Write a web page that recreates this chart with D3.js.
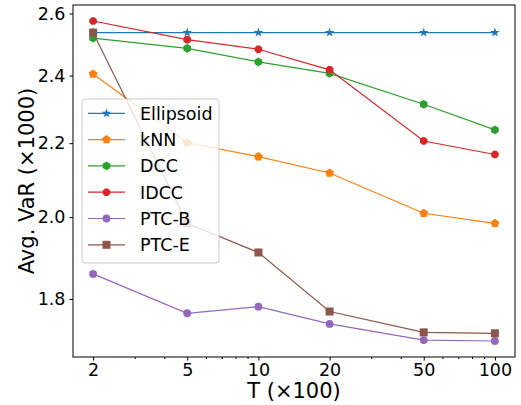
<!DOCTYPE html>
<html>
<head>
  <script src="https://d3js.org/d3.v7.min.js"></script>
  <style>
    body { margin: 0; padding: 0; background: white; overflow: hidden; }
    svg { display: block; font-family: "DejaVu Sans", sans-serif; }
  </style>
</head>
<body>
  <svg width="521" height="405"></svg>
  <script>
    const tValues = [2, 5, 10, 20, 50, 100];
    const seriesNames = ["Ellipsoid", "kNN", "DCC", "IDCC", "PTC-B", "PTC-E"];
    const ellipsoid = [2.537, 2.537, 2.537, 2.537, 2.537, 2.537];
    const knn = [2.405, 2.201, 2.162, 2.117, 2.010, 1.984];
    const dcc = [2.519, 2.486, 2.443, 2.407, 2.313, 2.238];
    const idcc = [2.575, 2.514, 2.483, 2.418, 2.206, 2.168];
    const ptcB = [1.859, 1.767, 1.782, 1.743, 1.707, 1.705];
    const ptcE = [2.537, 1.984, 1.911, 1.771, 1.724, 1.722];
    const yTicks = [1.8, 2.0, 2.2, 2.4, 2.6];
    const xTicks = [2, 5, 10, 20, 50, 100];

    const colors = ["#1f77b4", "#ff7f0e", "#2ca02c", "#d62728", "#9467bd", "#8c564b"];
    const markers = ["star", "pentagon", "hexagon", "octagon", "circle", "square"];
    const allValues = [ellipsoid, knn, dcc, idcc, ptcB, ptcE];

    const series = seriesNames.map((name, i) => ({
      name: name,
      color: colors[i],
      marker: markers[i],
      points: tValues.map((t, j) => ({ t: t, v: allValues[i][j] }))
    }));

    const svg = d3.select("svg");
    const margin = { top: 5, right: 6, bottom: 48, left: 73 };
    const width = 521 - margin.left - margin.right;
    const height = 405 - margin.top - margin.bottom;
    const g = svg.append("g").attr("transform", "translate(" + margin.left + "," + margin.top + ")");

    // matplotlib-style 5% padding in log space
    function padLog(lo, hi) {
      const a = Math.log(lo), b = Math.log(hi), p = (b - a) * 0.05;
      return [Math.exp(a - p), Math.exp(b + p)];
    }
    const flat = allValues.flat();
    const x = d3.scaleLog().domain(padLog(d3.min(tValues), d3.max(tValues))).range([0, width]);
    const y = d3.scaleLog().domain(padLog(d3.min(flat), d3.max(flat))).range([height, 0]);

    // axes
    const minorX = [];
    [1, 10, 100].forEach(dec => {
      for (let k = 2; k <= 9; k++) {
        const v = dec * k;
        if (v >= x.domain()[0] && v <= x.domain()[1] && !xTicks.includes(v)) minorX.push(v);
      }
    });

    const xAxis = g.append("g")
      .attr("transform", "translate(0," + height + ")")
      .call(d3.axisBottom(x).tickValues(xTicks).tickFormat(d3.format("d")).tickSize(3.5).tickPadding(3));
    g.append("g")
      .attr("transform", "translate(0," + height + ")")
      .call(d3.axisBottom(x).tickValues(minorX).tickFormat("").tickSize(2))
      .select(".domain").remove();

    const yAxis = g.append("g")
      .call(d3.axisLeft(y).tickValues(yTicks).tickFormat(d3.format(".1f")).tickSize(3.5).tickPadding(4));

    [xAxis, yAxis].forEach(a => {
      a.select(".domain").remove();
      a.selectAll("text").attr("font-size", "17.5px").attr("font-family", "DejaVu Sans").attr("fill", "black");
      a.selectAll("line").attr("stroke", "black");
    });

    // marker shapes
    function markerPath(type) {
      if (type === "star") return d3.symbol(d3.symbolStar, 28)();
      if (type === "square") return d3.symbol(d3.symbolSquare, 64)();
      if (type === "circle") return d3.symbol(d3.symbolCircle, 48)();
      const n = type === "pentagon" ? 5 : type === "hexagon" ? 6 : 8;
      const r = type === "pentagon" ? 4.6 : type === "hexagon" ? 4.4 : 4.1;
      const pts = d3.range(n).map(k => {
        const a = -Math.PI / 2 + k * 2 * Math.PI / n + (n === 8 ? Math.PI / 8 : 0);
        return [r * Math.cos(a), r * Math.sin(a)];
      });
      return "M" + pts.map(p => p.join(",")).join("L") + "Z";
    }

    const line = d3.line().x(d => x(d.t)).y(d => y(d.v));

    series.forEach(s => {
      const sg = g.append("g");
      sg.append("path")
        .attr("d", line(s.points))
        .attr("fill", "none")
        .attr("stroke", s.color)
        .attr("stroke-width", 1.2);
      sg.selectAll("path.mk")
        .data(s.points)
        .enter().append("path")
        .attr("class", "mk")
        .attr("d", markerPath(s.marker))
        .attr("transform", d => "translate(" + x(d.t) + "," + y(d.v) + ")")
        .attr("fill", s.color);
    });

    // frame
    g.append("rect")
      .attr("x", 0).attr("y", 0).attr("width", width).attr("height", height)
      .attr("fill", "none").attr("stroke", "black").attr("stroke-width", 1);

    // legend
    const lg = svg.append("g").attr("transform", "translate(82,99)");
    lg.append("rect")
      .attr("width", 137).attr("height", 164).attr("rx", 3)
      .attr("fill", "white").attr("fill-opacity", 0.8)
      .attr("stroke", "#cccccc").attr("stroke-width", 1);
    series.forEach((s, i) => {
      const cy = 14.3 + i * 26.3;
      lg.append("line")
        .attr("x1", 6).attr("x2", 43).attr("y1", cy).attr("y2", cy)
        .attr("stroke", s.color).attr("stroke-width", 1.2);
      lg.append("path")
        .attr("d", markerPath(s.marker))
        .attr("transform", "translate(24.5," + cy + ")")
        .attr("fill", s.color);
      lg.append("text")
        .attr("x", 58).attr("y", cy + 6.3)
        .attr("font-size", "17.5px")
        .attr("fill", "black")
        .text(s.name);
    });

    // axis labels
    svg.append("text")
      .attr("x", margin.left + width / 2)
      .attr("y", 398)
      .attr("text-anchor", "middle")
      .attr("font-size", "21px")
      .text("T (×100)");

    svg.append("text")
      .attr("transform", "translate(34," + (margin.top + height / 2) + ") rotate(-90)")
      .attr("text-anchor", "middle")
      .attr("font-size", "21px")
      .text("Avg. VaR (×1000)");
  </script>
</body>
</html>
